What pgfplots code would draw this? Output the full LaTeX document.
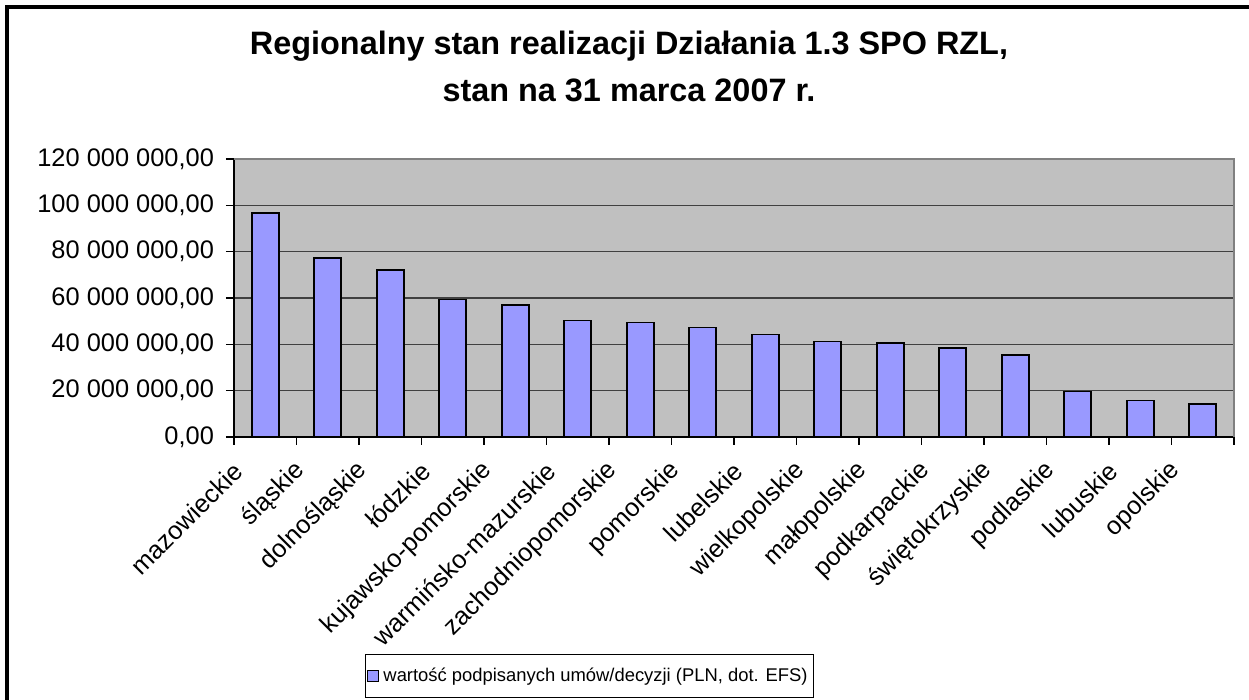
\documentclass[border=0pt]{standalone}
\usepackage{pgfplots}
\pgfplotsset{compat=1.18}
\usepackage{fontspec}
\setmainfont{Liberation Sans}
\definecolor{barblue}{HTML}{9999FF}
\definecolor{plotgray}{HTML}{C0C0C0}
\definecolor{gridc}{HTML}{404040}
\begin{document}
\begin{tikzpicture}
\useasboundingbox (0,0) rectangle (624.5pt,350pt);
\draw[line width=1.6pt, black] (3.5pt,0pt) -- (3.5pt,346.5pt) -- (624.5pt,346.5pt);
\node[font=\fontsize{16.2}{19}\selectfont\bfseries] at (314.5pt,327pt) {Regionalny stan realizacji Działania 1.3 SPO RZL,};
\node[font=\fontsize{16.2}{19}\selectfont\bfseries] at (314.5pt,305pt) {stan na 31 marca 2007 r.};
\begin{axis}[
  at={(117pt,131.5pt)}, anchor=south west,
  scale only axis, width=500pt, height=139pt,
  xmin=-0.5, xmax=15.5, ymin=0, ymax=120000000,
  axis background/.style={fill=plotgray},
  axis line style={black, line width=0.6pt},
  xtick pos=bottom, ytick pos=left,
  xtick={0,...,15},
  xticklabels={mazowieckie,śląskie,dolnośląskie,łódzkie,kujawsko-pomorskie,warmińsko-mazurskie,zachodniopomorskie,pomorskie,lubelskie,wielkopolskie,małopolskie,podkarpackie,świętokrzyskie,podlaskie,lubuskie,opolskie},
  major x tick style={draw=none},
  minor xtick={-0.5,0.5,...,15.5},
  minor x tick style={black, line width=0.6pt},
  minor tick length=4pt,
  ytick={0,20000000,40000000,60000000,80000000,100000000,120000000},
  yticklabels={{0,00},{20 000 000,00},{40 000 000,00},{60 000 000,00},{80 000 000,00},{100 000 000,00},{120 000 000,00}},
  scaled y ticks=false,
  major tick length=4pt,
  tick align=outside,
  y tick style={black, line width=0.6pt},
  ymajorgrids, grid style={gridc, line width=0.7pt},
  yticklabel style={font=\fontsize{12.7}{14}\selectfont, xshift=-2.5pt},
  xticklabel style={font=\fontsize{12.7}{14}\selectfont, xshift=-11pt, yshift=-8.5pt, rotate=45, anchor=east},
  legend style={at={(0.3555,-0.86)}, anchor=center, draw=black, line width=0.5pt, font=\fontsize{9.2}{11}\selectfont, inner xsep=1pt, inner ysep=4.5pt, legend cell align=left,
    /tikz/every even column/.append style={column sep=2pt}},
  legend image code/.code={\draw[fill=barblue, draw=black, line width=0.5pt] (0pt,-2.7pt) rectangle (5.5pt,2.7pt);},
  clip=false,
]
\addplot[ybar, bar width=13.5pt, fill=barblue, draw=black, line width=0.8pt] coordinates {
(0,96800000) (1,77300000) (2,72100000) (3,59300000) (4,57000000) (5,50200000) (6,49500000) (7,47200000)
(8,44300000) (9,41300000) (10,40600000) (11,38300000) (12,35300000) (13,19600000) (14,15800000) (15,14200000)
};
\addlegendentry{wartość podpisanych umów/decyzji (PLN, dot. EFS)}
\draw[gray, line width=0.8pt] (rel axis cs:0,1) -- (rel axis cs:1,1) -- (rel axis cs:1,0);
\end{axis}
\end{tikzpicture}
\end{document}
